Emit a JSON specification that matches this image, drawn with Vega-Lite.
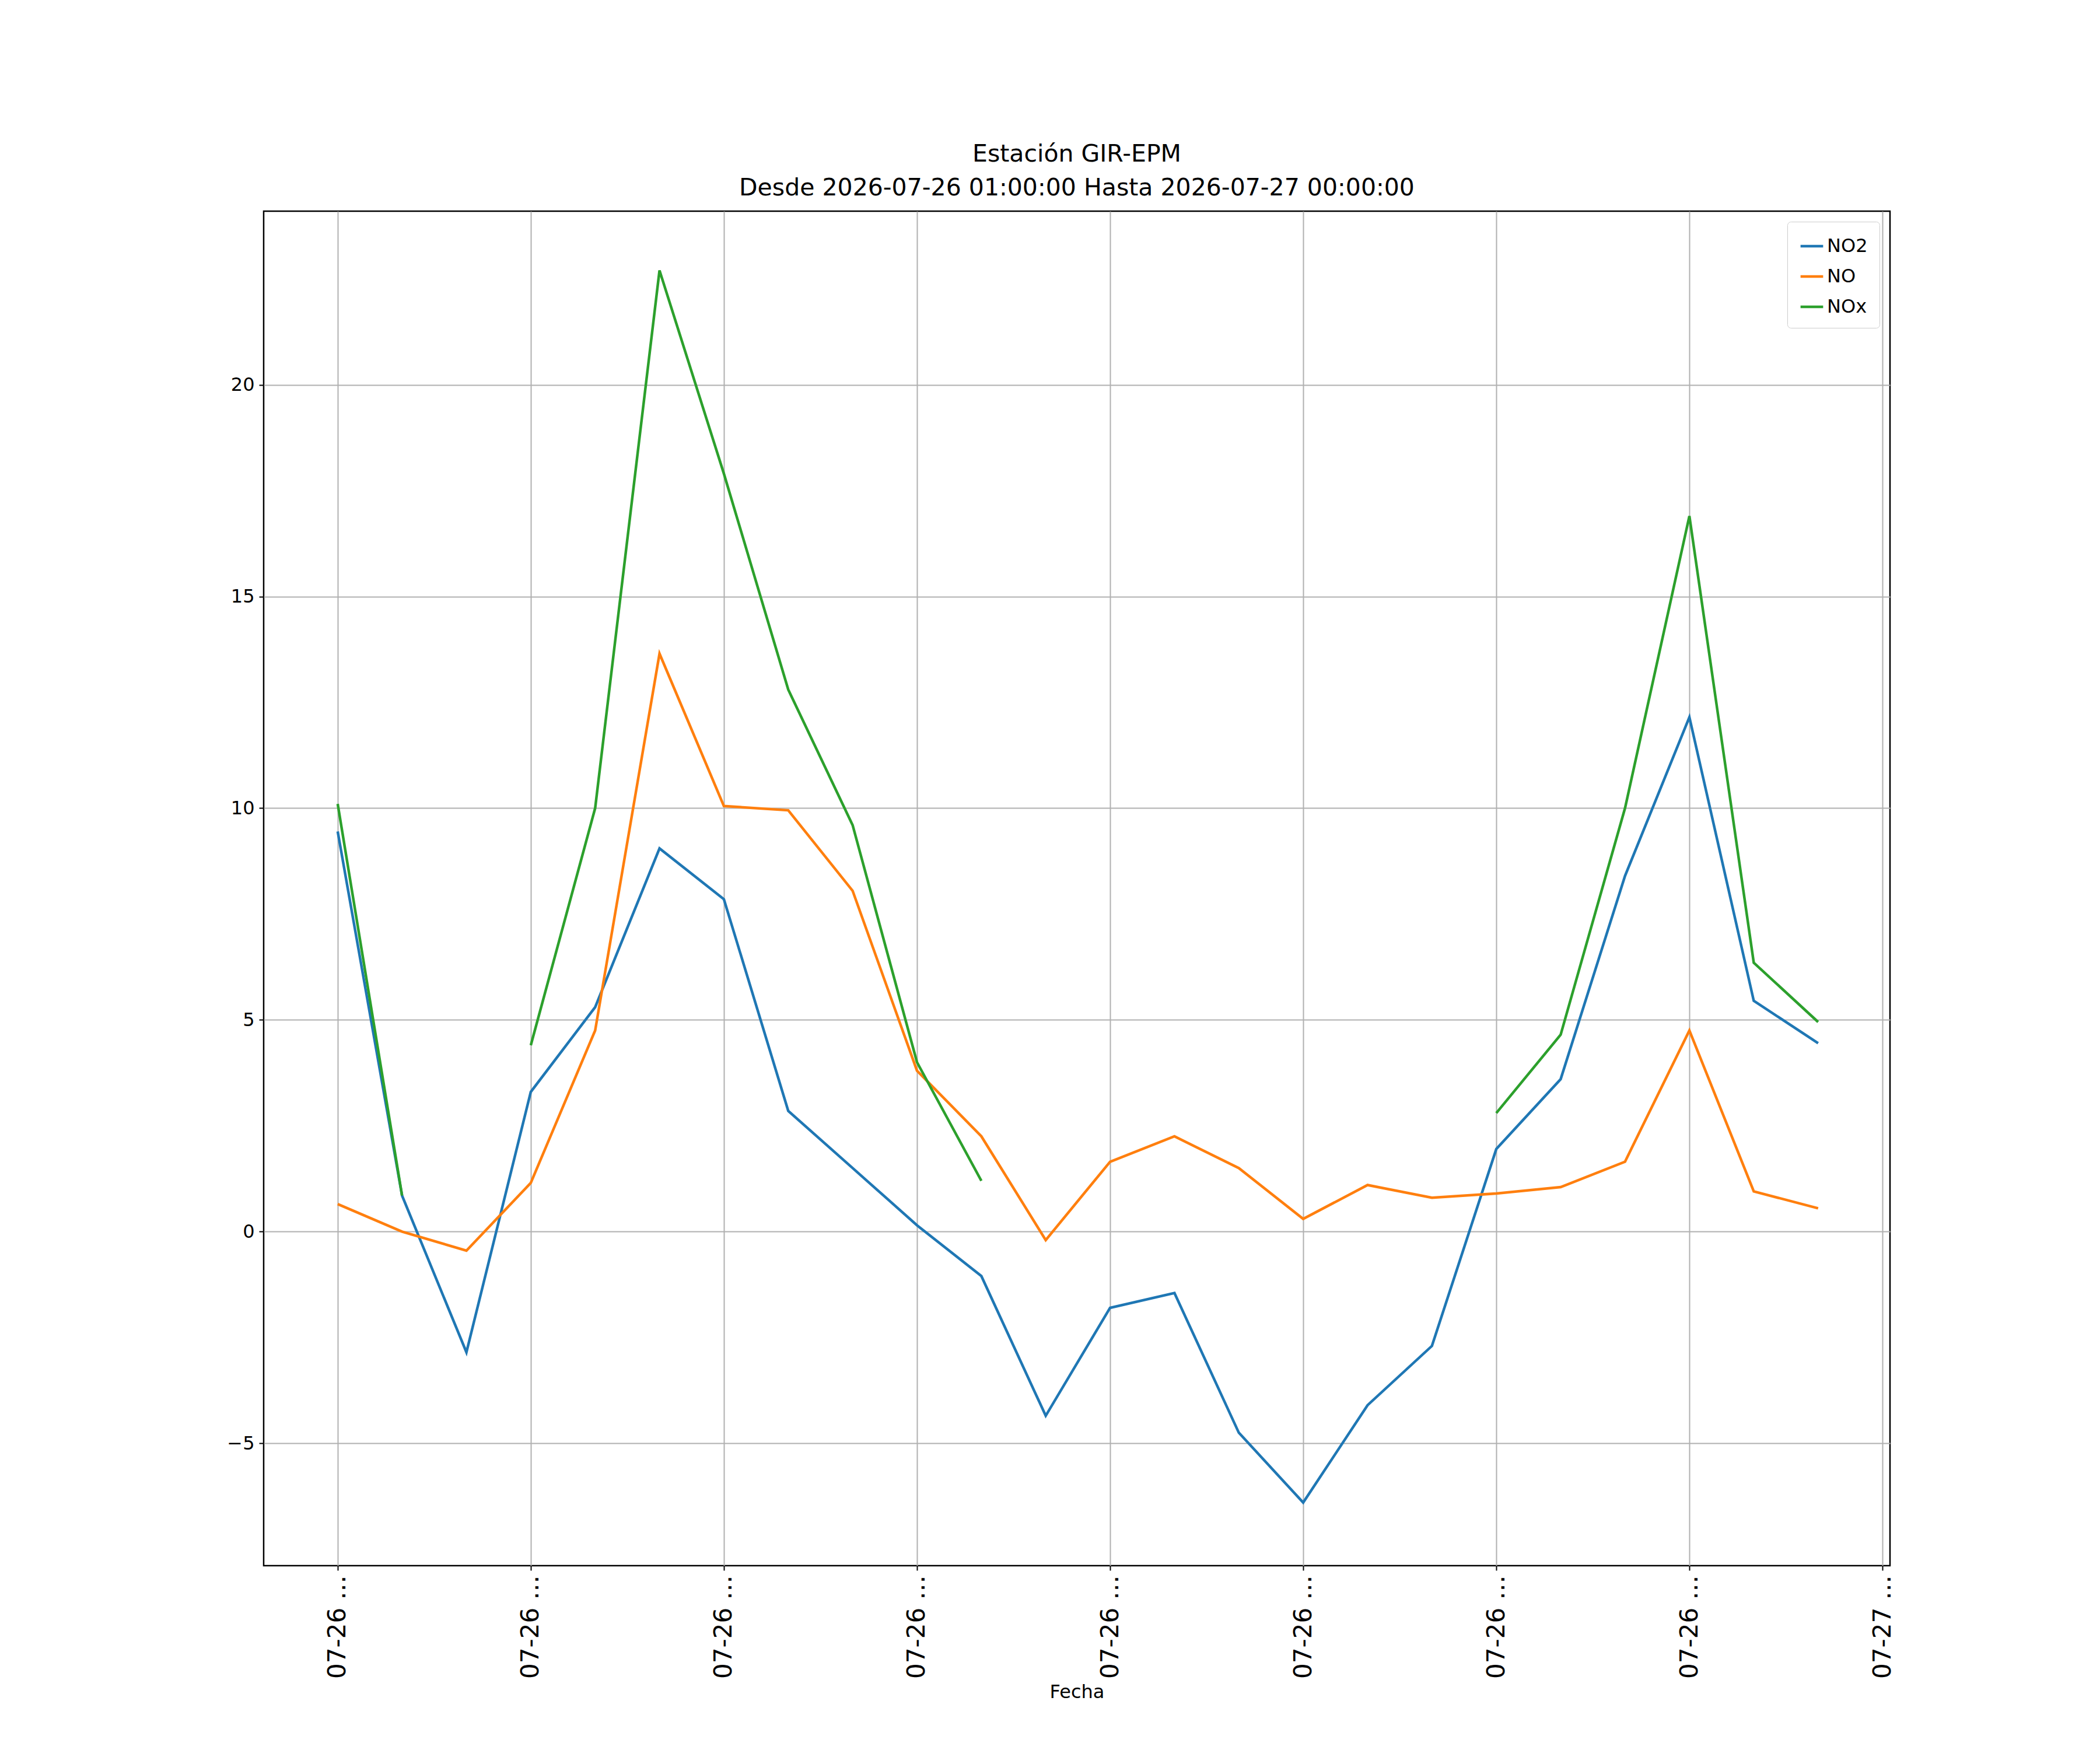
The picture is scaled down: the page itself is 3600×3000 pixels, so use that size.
{
  "$schema": "https://vega.github.io/schema/vega-lite/v6.json",
  "width": 2788,
  "height": 2322,
  "autosize": "none",
  "padding": {"left": 452, "top": 362, "right": 360, "bottom": 316},
  "background": "white",
  "config": {"font": "DejaVu Sans", "view": {"stroke": "black", "strokeWidth": 2.5}},
  "title": {"text": ["Estación GIR-EPM", "Desde 2026-07-26 01:00:00 Hasta 2026-07-27 00:00:00"], "fontSize": 41, "fontWeight": "normal", "anchor": "middle", "offset": 18, "lineHeight": 58},
  "data": {"values": [
    {"t": "2026-07-26T01:00:00", "NO2": 9.45, "NO": 0.65, "NOx": 10.1},
    {"t": "2026-07-26T02:00:00", "NO2": 0.85, "NO": 0.0, "NOx": 0.85},
    {"t": "2026-07-26T03:00:00", "NO2": -2.85, "NO": -0.45, "NOx": null},
    {"t": "2026-07-26T04:00:00", "NO2": 3.3, "NO": 1.15, "NOx": 4.4},
    {"t": "2026-07-26T05:00:00", "NO2": 5.3, "NO": 4.75, "NOx": 10.0},
    {"t": "2026-07-26T06:00:00", "NO2": 9.05, "NO": 13.65, "NOx": 22.7},
    {"t": "2026-07-26T07:00:00", "NO2": 7.85, "NO": 10.05, "NOx": 17.9},
    {"t": "2026-07-26T08:00:00", "NO2": 2.85, "NO": 9.95, "NOx": 12.8},
    {"t": "2026-07-26T09:00:00", "NO2": 1.5, "NO": 8.05, "NOx": 9.6},
    {"t": "2026-07-26T10:00:00", "NO2": 0.15, "NO": 3.8, "NOx": 4.0},
    {"t": "2026-07-26T11:00:00", "NO2": -1.05, "NO": 2.25, "NOx": 1.2},
    {"t": "2026-07-26T12:00:00", "NO2": -4.35, "NO": -0.2, "NOx": null},
    {"t": "2026-07-26T13:00:00", "NO2": -1.8, "NO": 1.65, "NOx": null},
    {"t": "2026-07-26T14:00:00", "NO2": -1.45, "NO": 2.25, "NOx": null},
    {"t": "2026-07-26T15:00:00", "NO2": -4.75, "NO": 1.5, "NOx": null},
    {"t": "2026-07-26T16:00:00", "NO2": -6.4, "NO": 0.3, "NOx": null},
    {"t": "2026-07-26T17:00:00", "NO2": -4.1, "NO": 1.1, "NOx": null},
    {"t": "2026-07-26T18:00:00", "NO2": -2.7, "NO": 0.8, "NOx": null},
    {"t": "2026-07-26T19:00:00", "NO2": 1.95, "NO": 0.9, "NOx": 2.8},
    {"t": "2026-07-26T20:00:00", "NO2": 3.6, "NO": 1.05, "NOx": 4.65},
    {"t": "2026-07-26T21:00:00", "NO2": 8.4, "NO": 1.65, "NOx": 10.0},
    {"t": "2026-07-26T22:00:00", "NO2": 12.15, "NO": 4.75, "NOx": 16.9},
    {"t": "2026-07-26T23:00:00", "NO2": 5.45, "NO": 0.95, "NOx": 6.35},
    {"t": "2026-07-27T00:00:00", "NO2": 4.45, "NO": 0.55, "NOx": 4.95}
  ]},
  "transform": [{"fold": ["NO2", "NO", "NOx"], "as": ["serie", "valor"]}],
  "mark": {"type": "line", "strokeWidth": 4.5, "invalid": "break-paths-show-domains", "clip": true},
  "encoding": {
    "x": {
      "field": "t", "type": "temporal", "title": "Fecha",
      "scale": {"domain": [{"year": 2026, "month": 7, "date": 25, "hours": 23, "minutes": 51}, {"year": 2026, "month": 7, "date": 27, "hours": 1, "minutes": 7}]},
      "axis": {
        "values": [
          {"year": 2026, "month": 7, "date": 26, "hours": 1},
          {"year": 2026, "month": 7, "date": 26, "hours": 4},
          {"year": 2026, "month": 7, "date": 26, "hours": 7},
          {"year": 2026, "month": 7, "date": 26, "hours": 10},
          {"year": 2026, "month": 7, "date": 26, "hours": 13},
          {"year": 2026, "month": 7, "date": 26, "hours": 16},
          {"year": 2026, "month": 7, "date": 26, "hours": 19},
          {"year": 2026, "month": 7, "date": 26, "hours": 22},
          {"year": 2026, "month": 7, "date": 27, "hours": 1}
        ],
        "format": "%m-%d %H", "labelAngle": 270, "labelFontSize": 42, "titleFontSize": 32, "titleFontWeight": "normal",
        "gridColor": "#b0b0b0", "gridWidth": 2, "domain": false, "tickColor": "black", "tickSize": 8, "tickWidth": 2, "labelColor": "black", "labelPadding": 8, "titlePadding": 8
      }
    },
    "y": {
      "field": "valor", "type": "quantitative", "title": null,
      "scale": {"domain": [-7.89, 24.1], "nice": false, "zero": false},
      "axis": {"values": [-5, 0, 5, 10, 15, 20], "labelFontSize": 32, "gridColor": "#b0b0b0", "gridWidth": 2, "domain": false, "tickColor": "black", "tickSize": 8, "tickWidth": 2, "labelColor": "black", "labelPadding": 8}
    },
    "color": {
      "field": "serie", "type": "nominal", "title": null,
      "scale": {"domain": ["NO2", "NO", "NOx"], "range": ["#1f77b4", "#ff7f0e", "#2ca02c"]},
      "legend": {"orient": "top-right", "symbolType": "stroke", "symbolStrokeWidth": 4.5, "symbolSize": 1500, "labelFontSize": 32, "rowPadding": 14, "padding": 20, "strokeColor": "#cccccc", "fillColor": "white", "cornerRadius": 6, "offset": 18, "labelColor": "black"}
    },
    "order": {"field": "t", "type": "temporal"}
  }
}
